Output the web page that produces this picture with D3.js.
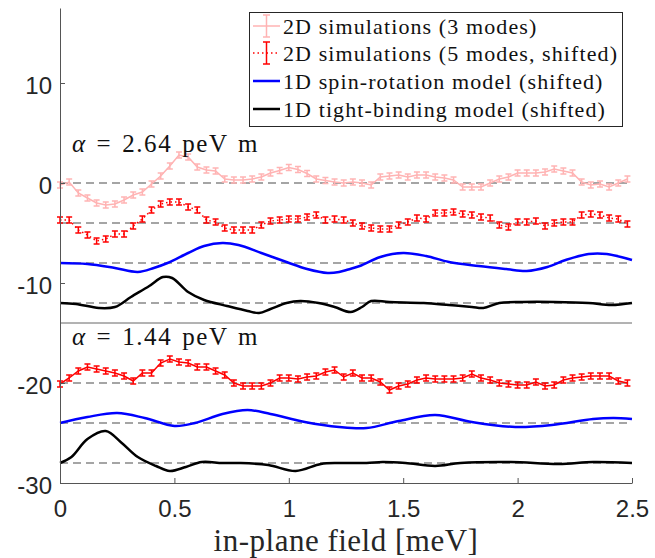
<!DOCTYPE html>
<html>
<head>
<meta charset="utf-8">
<script src="https://cdn.jsdelivr.net/npm/d3@7"></script>
<style>
  body { margin: 0; background: #fff; }
</style>
</head>
<body>
<script>
// field grid of the 2D simulations (step 0.04 meV)
const field = d3.range(63).map(i => +(i * 0.04).toFixed(2));

// alpha = 2.64 peV m
const sim3 = [-0.2, 0.1, -1.0, -1.5, -2.0, -2.2, -2.1, -1.7, -1.2, -0.9,
  -0.1, 0.7, 1.7, 2.8, 2.6, 1.6, 1.3, 1.2, 0.4, 0.3,
  0.3, 0.4, 0.6, 1.0, 1.25, 1.55, 1.35, 0.95, 0.4, 0.25,
  0.1, 0.0, 0.1, 0.0, -0.2, 0.6, 0.7, 0.8, 0.6, 0.8,
  0.8, 0.6, 0.5, 0.3, -0.4, -0.4, -0.4, 0.0, 0.4, 0.6,
  1.0, 1.0, 1.0, 1.1, 1.4, 1.2, 1.0, 0.1, -0.2, -0.1,
  -0.4, 0.0, 0.4];
const sim5 = [-3.7, -3.7, -4.7, -5.2, -5.8, -5.6, -5.1, -5.1, -4.3, -3.6,
  -2.7, -2.1, -1.9, -1.9, -2.4, -2.7, -3.7, -3.9, -4.5, -4.7,
  -4.7, -4.7, -4.2, -3.8, -3.7, -3.6, -3.6, -3.4, -3.2, -3.7,
  -3.6, -3.7, -4.0, -4.3, -4.5, -4.6, -4.6, -4.2, -3.9, -3.5,
  -3.6, -3.0, -3.0, -2.9, -3.1, -3.2, -3.4, -3.5, -4.2, -4.4,
  -3.9, -3.9, -3.8, -4.3, -4.0, -3.9, -3.9, -3.2, -3.1, -3.2,
  -3.5, -3.6, -4.1];
const spinTop = [[0, -8.0], [0.12, -8.1], [0.24, -8.5], [0.34, -8.9], [0.41, -8.5], [0.47, -8.0],
  [0.56, -7.0], [0.63, -6.3], [0.71, -6.0], [0.78, -6.2], [0.88, -7.0], [0.99, -7.9],
  [1.08, -8.6], [1.17, -9.0], [1.22, -8.9], [1.26, -8.65], [1.31, -8.3], [1.40, -7.4],
  [1.50, -7.0], [1.60, -7.3], [1.70, -7.9], [1.83, -8.3], [1.95, -8.6], [2.04, -8.8],
  [2.13, -8.4], [2.21, -7.7], [2.31, -7.1], [2.39, -7.1], [2.50, -7.7]];
const tbTop = [[0, -12.0], [0.07, -12.1], [0.17, -12.5], [0.24, -12.4], [0.31, -11.4], [0.39, -10.3],
  [0.45, -9.4], [0.49, -9.5], [0.56, -10.9], [0.63, -11.7], [0.73, -12.3], [0.82, -12.8],
  [0.87, -13.0], [0.92, -12.6], [0.99, -12.0], [1.05, -11.8], [1.13, -12.0], [1.20, -12.4],
  [1.27, -12.9], [1.32, -12.4], [1.36, -11.8], [1.44, -11.9], [1.59, -12.0], [1.70, -12.2],
  [1.80, -12.4], [1.85, -12.5], [1.92, -12.0], [2.02, -11.9], [2.16, -11.9], [2.31, -12.0],
  [2.41, -12.2], [2.50, -12.0]];

// alpha = 1.44 peV m
const sim5b = [-20.1, -19.5, -18.8, -18.4, -18.6, -18.8, -19.0, -19.3, -19.8, -19.0,
  -19.0, -18.0, -17.6, -17.9, -18.0, -18.4, -18.4, -18.8, -19.2, -20.0,
  -20.3, -20.3, -20.3, -20.0, -19.5, -19.5, -19.6, -19.4, -19.3, -18.9,
  -18.7, -19.4, -19.0, -19.5, -19.5, -19.9, -20.7, -20.3, -20.1, -19.7,
  -19.5, -19.6, -19.6, -19.6, -19.5, -19.1, -19.5, -19.7, -20.0, -20.1,
  -20.2, -20.2, -19.9, -20.3, -20.2, -19.7, -19.5, -19.4, -19.3, -19.3,
  -19.3, -19.8, -20.0];
const spinBot = [[0, -24.0], [0.12, -23.4], [0.25, -23.0], [0.37, -23.5], [0.50, -24.3], [0.59, -24.0],
  [0.71, -23.1], [0.82, -22.7], [0.92, -23.1], [1.07, -23.9], [1.22, -24.4], [1.34, -24.5],
  [1.48, -23.8], [1.64, -23.2], [1.80, -23.9], [1.99, -24.4], [2.15, -24.2], [2.33, -23.6],
  [2.42, -23.5], [2.50, -23.6]];
const tbBot = [[0, -28.0], [0.05, -27.4], [0.12, -25.6], [0.20, -24.8], [0.27, -26.0], [0.34, -27.4],
  [0.42, -28.3], [0.48, -28.8], [0.55, -28.4], [0.62, -27.9], [0.71, -28.0], [0.79, -28.0],
  [0.91, -28.2], [1.03, -28.8], [1.14, -28.1], [1.22, -28.0], [1.34, -28.0], [1.41, -27.9],
  [1.51, -28.0], [1.64, -28.3], [1.75, -28.0], [1.97, -27.9], [2.18, -28.1], [2.33, -27.9],
  [2.50, -28.0]];

const errBar = 0.3;
const baselines = [0, -4, -8, -12, -20, -24, -28];
const divider = -14;
const xTicks = [0, 0.5, 1, 1.5, 2, 2.5];
const yTicks = [-30, -20, -10, 0, 10];
const legendLabels = ["2D simulations (3 modes)", "2D simulations (5 modes, shifted)",
  "1D spin-rotation model (shifted)", "1D tight-binding model (shifted)"];
const alphaValues = ["2.64", "1.44"];

const width = 655, height = 558;
const pink = "#ffb3b3", red = "#ff0000", blue = "#0000ff";
const serif = "'Liberation Serif', 'Times New Roman', serif";

const x = d3.scaleLinear().domain([0, 2.5]).range([60, 632]);
const y = d3.scaleLinear().domain([-30, 17.5]).range([483, 8]);

const svg = d3.select("body").append("svg")
  .attr("width", width)
  .attr("height", height);

// dashed zero lines for each (shifted) curve
svg.append("g")
  .selectAll("line")
  .data(baselines)
  .join("line")
    .attr("x1", x(0)).attr("x2", x(2.5))
    .attr("y1", d => y(d)).attr("y2", d => y(d))
    .attr("stroke", "#4d4d4d")
    .attr("stroke-width", 1.2)
    .attr("stroke-dasharray", "8,5");

svg.append("line")
  .attr("x1", x(0)).attr("x2", x(2.5))
  .attr("y1", y(divider)).attr("y2", y(divider))
  .attr("stroke", "#666")
  .attr("stroke-width", 1);

const smooth = d3.line()
  .x(d => x(d[0]))
  .y(d => y(d[1]))
  .curve(d3.curveCatmullRom.alpha(0.5));

const straight = d3.line()
  .x((d, i) => x(field[i]))
  .y(d => y(d));

function errorSeries(vals, color, dash) {
  const g = svg.append("g");
  g.append("path")
    .attr("d", straight(vals))
    .attr("fill", "none")
    .attr("stroke", color)
    .attr("stroke-width", 1.5)
    .attr("stroke-dasharray", dash);
  const bars = g.selectAll("g.bar")
    .data(vals)
    .join("g")
      .attr("stroke", color)
      .attr("stroke-width", 1.5)
      .attr("transform", (d, i) => `translate(${x(field[i])},0)`);
  bars.append("line")
    .attr("y1", d => y(d - errBar)).attr("y2", d => y(d + errBar));
  bars.append("line")
    .attr("x1", -3).attr("x2", 3)
    .attr("y1", d => y(d - errBar)).attr("y2", d => y(d - errBar));
  bars.append("line")
    .attr("x1", -3).attr("x2", 3)
    .attr("y1", d => y(d + errBar)).attr("y2", d => y(d + errBar));
}

function curve(pts, color) {
  svg.append("path")
    .attr("d", smooth(pts))
    .attr("fill", "none")
    .attr("stroke", color)
    .attr("stroke-width", 2.5)
    .attr("stroke-linejoin", "round");
}

errorSeries(sim3, pink, null);
errorSeries(sim5, red, "1.5,3");
curve(spinTop, blue);
curve(tbTop, "#000");
errorSeries(sim5b, red, null);
curve(spinBot, blue);
curve(tbBot, "#000");

// axes
const yAxis = svg.append("g")
  .attr("transform", `translate(${x(0)},0)`)
  .call(d3.axisLeft(y).tickValues(yTicks).tickSize(-5).tickSizeOuter(0).tickPadding(8));
const xAxis = svg.append("g")
  .attr("transform", `translate(0,${y(-30)})`)
  .call(d3.axisBottom(x).tickValues(xTicks).tickFormat(d => d).tickSize(-5).tickSizeOuter(0).tickPadding(17));

[yAxis, xAxis].forEach(a => {
  a.select(".domain").attr("stroke", "#555");
  a.selectAll(".tick line").attr("stroke", "#555");
  a.selectAll(".tick text")
    .attr("fill", "#262626")
    .style("font-family", "'Liberation Sans', Arial, sans-serif")
    .style("font-size", "24px");
});
yAxis.selectAll(".tick text").attr("dy", "0.42em").text(d => d < 0 ? "-" + Math.abs(d) : d);

svg.append("text")
  .attr("x", (x(0) + x(2.5)) / 2)
  .attr("y", 551)
  .attr("text-anchor", "middle")
  .style("font-family", serif)
  .style("font-size", "31px")
  .style("letter-spacing", "0.5px")
  .attr("fill", "#262626")
  .text("in-plane field [meV]");

// panel labels
const pl = svg.append("g")
  .style("font-family", serif)
  .style("font-size", "25px")
  .attr("fill", "#111")
  .selectAll("text")
  .data(alphaValues)
  .join("text")
    .attr("x", 72)
    .attr("y", (d, i) => i === 0 ? 152 : 345)
    .style("letter-spacing", "1.6px")
    .style("word-spacing", "2px");
pl.append("tspan").style("font-style", "italic").text("α");
pl.append("tspan").text(d => ` = ${d} peV m`);

// legend
const legend = svg.append("g");
legend.append("rect")
  .attr("x", 249.5).attr("y", 12.5)
  .attr("width", 373).attr("height", 114)
  .attr("fill", "#fff")
  .attr("stroke", "#262626")
  .attr("stroke-width", 1);

const legendItems = [
  { color: pink, dash: null, err: true, w: 1.5 },
  { color: red, dash: "1.5,3", err: true, w: 1.5 },
  { color: blue, dash: null, err: false, w: 2.5 },
  { color: "#000", dash: null, err: false, w: 2.5 }
];
const rowY = [26, 53, 81, 109];
const li = legend.selectAll("g.item")
  .data(legendItems)
  .join("g")
    .attr("transform", (d, i) => `translate(0,${rowY[i]})`);
li.append("line")
  .attr("x1", 253).attr("x2", 280)
  .attr("stroke", d => d.color)
  .attr("stroke-width", d => d.w)
  .attr("stroke-dasharray", d => d.dash);
li.filter(d => d.err).each(function(d) {
  const g = d3.select(this).append("g").attr("stroke", d.color).attr("stroke-width", 1.5);
  g.append("line").attr("x1", 266.5).attr("x2", 266.5).attr("y1", -11).attr("y2", 11);
  g.append("line").attr("x1", 263).attr("x2", 270).attr("y1", -11).attr("y2", -11);
  g.append("line").attr("x1", 263).attr("x2", 270).attr("y1", 11).attr("y2", 11);
});
li.append("text")
  .attr("x", 283)
  .attr("y", 7.5)
  .attr("fill", "#111")
  .style("font-family", serif)
  .style("font-size", "22px")
  .style("letter-spacing", "1.1px")
  .text((d, i) => legendLabels[i]);
</script>
</body>
</html>
